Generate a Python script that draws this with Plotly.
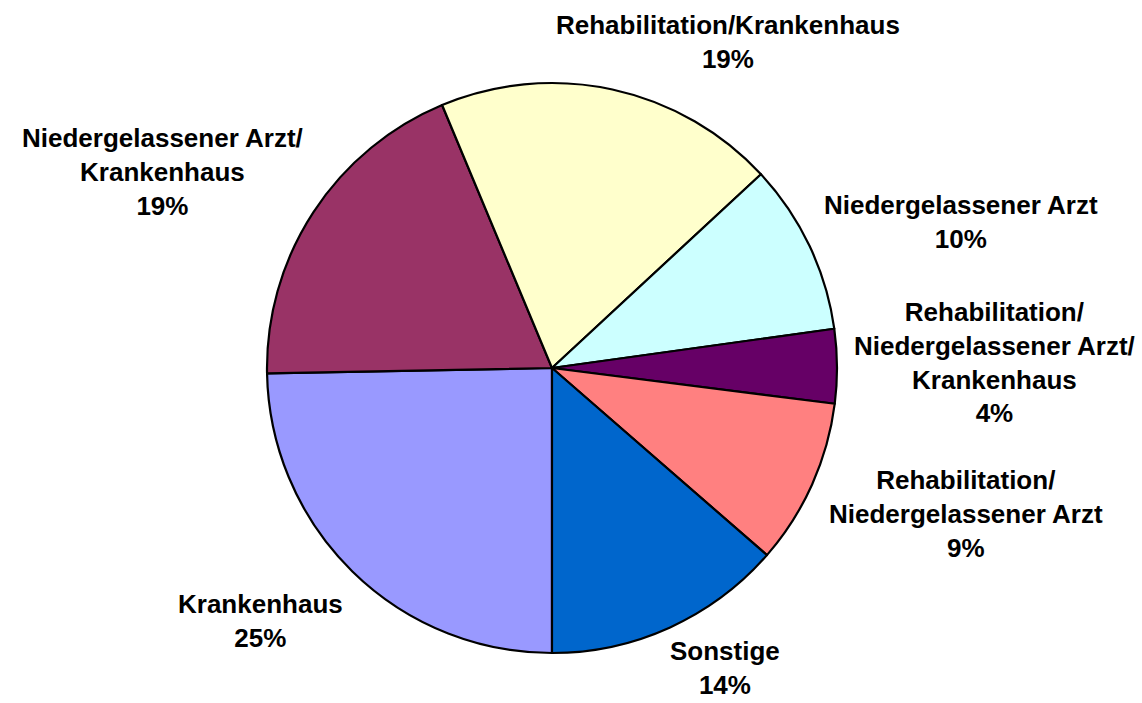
import plotly.graph_objects as go

labels = [
    "Krankenhaus",
    "Niedergelassener Arzt/<br>Krankenhaus",
    "Rehabilitation/Krankenhaus",
    "Niedergelassener Arzt",
    "Rehabilitation/<br>Niedergelassener Arzt/<br>Krankenhaus",
    "Rehabilitation/<br>Niedergelassener Arzt",
    "Sonstige",
]
values = [24.7, 19.0, 19.4, 9.7, 4.2, 9.4, 13.6]
colors = ["#9999FF", "#993366", "#FFFFCC", "#CCFFFF", "#660066", "#FF8080", "#0066CC"]

# label box centres (pixels from top-left), layout only
label_pos = [(260, 621), (162, 172), (728, 42), (961, 222), (994, 362), (966, 514), (725, 668)]

W, H = 1142, 703
cx, cy, r = 552, 368, 285
FONT = "Liberation Sans, Arial, sans-serif"

fig = go.Figure(go.Pie(
    labels=labels,
    values=values,
    sort=False,
    direction="clockwise",
    rotation=180,
    marker=dict(colors=colors, line=dict(color="black", width=2.2)),
    textinfo="none",
    showlegend=False,
    hoverinfo="skip",
    domain=dict(x=[(cx - r) / W, (cx + r) / W], y=[(H - cy - r) / H, (H - cy + r) / H]),
))

total = sum(values)
for lab, v, (px, py) in zip(labels, values, label_pos):
    fig.add_annotation(
        x=px / W, y=1 - py / H, xref="paper", yref="paper",
        xanchor="center", yanchor="middle", showarrow=False, align="center",
        text=f"<b>{lab}<br>{round(v / total * 100)}%</b>",
        font=dict(family=FONT, size=26, color="black"),
        borderpad=0,
    )

fig.update_layout(
    width=W, height=H,
    margin=dict(l=0, r=0, t=0, b=0),
    paper_bgcolor="white",
    plot_bgcolor="white",
)
fig.write_html("out.html")
